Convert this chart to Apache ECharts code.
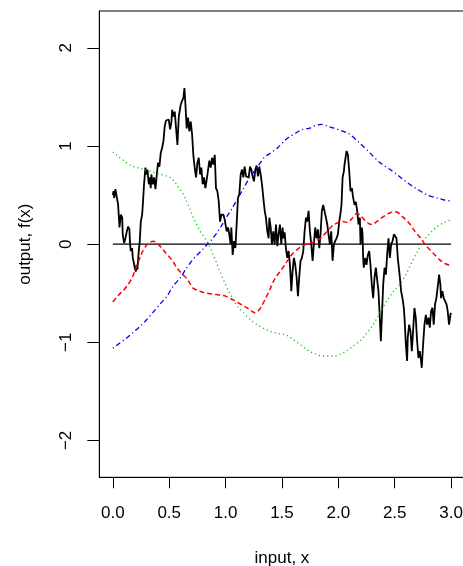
<!DOCTYPE html>
<html>
<head>
<meta charset="utf-8">
<script src="https://cdn.jsdelivr.net/npm/echarts@6/dist/echarts.min.js"></script>
<style>
html, body { margin: 0; padding: 0; background: #fff; }
#main { width: 463px; height: 566px; }
</style>
</head>
<body>
<div id="main"></div>
<script>
// sample path (black, solid)
var blackX = [0.000,0.006,0.012,0.023,0.035,0.047,0.059,0.071,0.083,0.088,0.100,0.112,0.124,0.136,0.147,0.153,0.159,0.171,0.177,0.189,
	0.195,0.204,0.212,0.218,0.230,0.239,0.248,0.260,0.266,0.277,0.289,0.301,0.307,0.319,0.330,0.336,0.342,0.354,0.366,0.378,
	0.390,0.401,0.413,0.425,0.437,0.449,0.460,0.472,0.484,0.496,0.508,0.520,0.526,0.537,0.549,0.561,0.573,0.585,0.590,0.602,
	0.614,0.626,0.635,0.644,0.655,0.667,0.679,0.691,0.703,0.714,0.726,0.738,0.750,0.762,0.774,0.785,0.797,0.809,0.821,0.833,
	0.845,0.856,0.868,0.880,0.892,0.904,0.915,0.927,0.939,0.951,0.963,0.981,0.992,1.010,1.022,1.033,1.045,1.051,1.063,1.075,
	1.087,1.098,1.110,1.122,1.134,1.146,1.157,1.169,1.181,1.193,1.205,1.217,1.228,1.240,1.252,1.264,1.276,1.287,1.299,1.311,
	1.323,1.335,1.347,1.358,1.370,1.382,1.388,1.400,1.411,1.423,1.435,1.447,1.459,1.470,1.482,1.494,1.506,1.512,1.524,1.535,
	1.547,1.559,1.571,1.583,1.594,1.606,1.618,1.630,1.642,1.653,1.665,1.677,1.689,1.701,1.713,1.724,1.736,1.748,1.760,1.772,
	1.783,1.795,1.807,1.819,1.831,1.842,1.854,1.866,1.878,1.890,1.902,1.913,1.925,1.937,1.949,1.961,1.972,1.984,1.996,2.008,
	2.020,2.028,2.038,2.049,2.055,2.067,2.073,2.079,2.085,2.097,2.108,2.120,2.132,2.144,2.156,2.167,2.179,2.191,2.197,2.209,
	2.215,2.220,2.226,2.238,2.250,2.262,2.274,2.285,2.297,2.309,2.321,2.333,2.345,2.356,2.368,2.377,2.386,2.398,2.410,2.422,
	2.433,2.445,2.457,2.469,2.481,2.493,2.504,2.516,2.528,2.534,2.546,2.557,2.569,2.581,2.587,2.599,2.610,2.616,2.628,2.640,
	2.652,2.663,2.675,2.687,2.699,2.711,2.722,2.734,2.740,2.752,2.764,2.776,2.787,2.799,2.811,2.823,2.835,2.846,2.858,2.870,
	2.882,2.894,2.905,2.911,2.923,2.935,2.947,2.959,2.970,2.982,2.994,3.000];
var blackY = [0.50,0.54,0.47,0.56,0.55,0.40,0.17,0.30,0.27,0.10,0.01,0.06,0.13,0.18,0.15,0.00,-0.07,-0.04,-0.14,-0.12,
	-0.24,-0.28,-0.21,-0.26,-0.07,0.03,0.23,0.30,0.40,0.61,0.78,0.71,0.76,0.61,0.68,0.57,0.71,0.61,0.68,0.56,
	0.71,0.83,0.79,0.93,0.98,1.05,1.20,1.26,1.24,1.27,1.17,1.25,1.37,1.30,1.35,1.18,1.01,1.30,1.28,1.42,
	1.46,1.49,1.59,1.42,1.18,1.29,1.15,1.25,1.12,0.91,0.78,0.68,0.83,0.88,0.71,0.78,0.61,0.68,0.57,0.66,
	0.68,0.85,0.78,0.88,0.81,0.91,0.57,0.54,0.44,0.23,0.30,0.30,0.25,0.13,0.17,0.10,0.00,0.17,-0.11,0.03,
	-0.04,0.20,0.47,0.51,0.71,0.76,0.68,0.79,0.69,0.71,0.68,0.79,0.76,0.69,0.64,0.76,0.80,0.69,0.79,0.71,
	0.61,0.47,0.34,0.27,0.13,0.06,0.27,0.17,0.00,0.13,0.00,0.20,-0.02,0.10,0.20,0.00,0.17,0.06,0.12,-0.04,
	-0.14,-0.07,-0.21,-0.48,-0.28,-0.14,-0.21,-0.34,-0.53,-0.34,-0.17,-0.14,-0.07,0.13,0.27,0.23,0.34,0.13,0.00,-0.17,
	0.00,0.17,0.06,0.15,-0.04,0.10,0.34,0.40,0.42,0.27,0.20,0.10,0.00,0.13,-0.17,0.00,0.03,0.06,0.10,0.23,
	0.32,0.40,0.68,0.74,0.81,0.83,0.95,0.96,0.91,0.74,0.54,0.57,0.47,0.40,0.43,0.34,0.20,0.27,0.00,0.17,
	0.10,-0.14,-0.24,-0.14,-0.21,-0.11,-0.07,-0.21,-0.41,-0.55,-0.34,-0.24,-0.37,-0.48,-0.75,-0.99,-0.75,-0.41,-0.24,-0.31,
	-0.11,0.06,-0.14,0.00,0.03,0.10,0.11,0.06,-0.15,-0.21,-0.34,-0.48,-0.55,-0.65,-0.75,-1.02,-1.19,-0.95,-0.82,-0.89,
	-1.09,-0.89,-0.65,-0.75,-0.99,-1.16,-1.09,-1.19,-1.26,-1.02,-0.82,-0.72,-0.82,-0.75,-0.85,-0.68,-0.65,-0.82,-0.61,-0.55,
	-0.53,-0.31,-0.41,-0.55,-0.48,-0.55,-0.55,-0.61,-0.68,-0.82,-0.72,-0.70];

// red, dashed
var redX = [0.00,0.05,0.094,0.13,0.168,0.20,0.227,0.25,0.27,0.30,0.33,0.36,0.38,0.41,0.434,0.47,0.508,0.54,0.567,0.62,
	0.656,0.69,0.714,0.773,0.833,0.89,0.95,1.00,1.07,1.13,1.19,1.23,1.26,1.29,1.32,1.36,1.39,1.42,1.45,1.49,
	1.52,1.56,1.60,1.64,1.69,1.74,1.80,1.85,1.90,1.95,2.00,2.04,2.08,2.12,2.16,2.19,2.23,2.27,2.30,2.34,
	2.40,2.46,2.50,2.53,2.57,2.63,2.68,2.73,2.78,2.84,2.90,2.95,3.00];
var redY = [-0.59,-0.52,-0.47,-0.42,-0.35,-0.26,-0.18,-0.11,-0.06,-0.01,0.02,0.03,0.02,-0.01,-0.04,-0.09,-0.14,-0.19,-0.24,-0.31,
	-0.35,-0.41,-0.45,-0.48,-0.50,-0.51,-0.52,-0.53,-0.57,-0.61,-0.65,-0.68,-0.70,-0.68,-0.63,-0.54,-0.47,-0.39,-0.33,-0.27,
	-0.22,-0.15,-0.09,-0.05,-0.01,0.01,0.03,0.07,0.13,0.19,0.22,0.23,0.22,0.26,0.31,0.30,0.25,0.21,0.20,0.23,
	0.28,0.32,0.33,0.32,0.28,0.21,0.13,0.06,-0.02,-0.09,-0.16,-0.20,-0.22];

// green, dotted
var greenX = [0.00,0.05,0.10,0.16,0.22,0.28,0.34,0.40,0.46,0.52,0.57,0.62,0.65,0.68,0.71,0.74,0.77,0.80,0.83,0.86,
	0.89,0.92,0.95,0.98,1.02,1.07,1.11,1.16,1.22,1.28,1.34,1.40,1.46,1.52,1.56,1.62,1.68,1.74,1.80,1.85,
	1.91,1.97,2.02,2.07,2.13,2.19,2.25,2.31,2.37,2.43,2.49,2.55,2.59,2.65,2.70,2.76,2.82,2.88,2.94,3.00];
var greenY = [0.94,0.89,0.85,0.80,0.78,0.76,0.74,0.72,0.70,0.67,0.60,0.52,0.45,0.37,0.28,0.21,0.14,0.09,0.04,-0.03,
	-0.11,-0.19,-0.28,-0.36,-0.46,-0.57,-0.64,-0.70,-0.77,-0.82,-0.86,-0.89,-0.91,-0.92,-0.94,-0.99,-1.04,-1.09,-1.12,-1.14,
	-1.14,-1.14,-1.12,-1.09,-1.04,-0.99,-0.91,-0.82,-0.70,-0.58,-0.48,-0.40,-0.33,-0.19,-0.08,0.04,0.12,0.18,0.22,0.25];

// blue, dot-dash
var blueX = [0.00,0.06,0.12,0.18,0.24,0.30,0.36,0.42,0.48,0.54,0.60,0.65,0.70,0.74,0.80,0.84,0.88,0.92,0.96,1.00,
	1.05,1.10,1.16,1.22,1.28,1.34,1.40,1.46,1.52,1.56,1.62,1.68,1.74,1.80,1.85,1.91,1.97,2.02,2.10,2.19,
	2.28,2.37,2.46,2.53,2.62,2.70,2.79,2.88,2.94,3.00];
var blueY = [-1.06,-1.01,-0.96,-0.90,-0.84,-0.77,-0.69,-0.61,-0.53,-0.42,-0.34,-0.25,-0.17,-0.12,-0.05,0.00,0.05,0.11,0.18,0.26,
	0.35,0.45,0.57,0.69,0.78,0.88,0.93,0.98,1.05,1.09,1.13,1.17,1.18,1.21,1.22,1.20,1.18,1.16,1.12,1.03,
	0.93,0.83,0.76,0.70,0.62,0.56,0.50,0.47,0.45,0.44];

var zeroX = [0, 3];
var zeroY = [0, 0];

var xTicks = [0, 0.5, 1, 1.5, 2, 2.5, 3];
var yTicks = [-2, -1, 0, 1, 2];

var zip = function (xs, ys) {
	var arr = [];
	for (var i = 0; i < xs.length; i++) {
		arr.push([xs[i], ys[i]]);
	}
	return arr;
};

var font = "'Liberation Sans', Arial, Helvetica, sans-serif";
var myChart = echarts.init(document.getElementById('main'));

var option = {
	animation: false,
	backgroundColor: '#fff',
	grid: {
		left: 99.3,
		top: 11,
		width: 365.3,
		height: 466.3,
		show: true,
		borderColor: '#000',
		borderWidth: 1,
		outerBoundsMode: 'none',
		containLabel: false
	},
	xAxis: {
		type: 'value',
		min: -0.12,
		max: 3.12,
		name: 'input, x',
		nameLocation: 'middle',
		nameGap: 73,
		nameTextStyle: { fontFamily: font, fontSize: 17, color: '#000' },
		splitLine: { show: false },
		axisLine: { show: true, onZero: false, lineStyle: { color: '#000', width: 1 } },
		axisTick: { show: true, length: 11, customValues: xTicks, lineStyle: { color: '#000', width: 1 } },
		axisLabel: {
			customValues: xTicks,
			margin: 28,
			fontFamily: font,
			fontSize: 17,
			color: '#000',
			formatter: function (v) { return v.toFixed(1); }
		}
	},
	yAxis: {
		type: 'value',
		min: -2.376,
		max: 2.376,
		name: 'output, f(x)',
		nameLocation: 'middle',
		nameGap: 65,
		nameTextStyle: { fontFamily: font, fontSize: 17, color: '#000' },
		splitLine: { show: false },
		axisLine: { show: true, onZero: false, lineStyle: { color: '#000', width: 1 } },
		axisTick: { show: true, length: 12, customValues: yTicks, lineStyle: { color: '#000', width: 1 } },
		axisLabel: {
			customValues: yTicks,
			rotate: 90,
			margin: 24,
			fontFamily: font,
			fontSize: 17,
			color: '#000',
			formatter: function (v) { return v < 0 ? '\u2212' + Math.abs(v) : String(v); }
		}
	},
	series: [
		{
			type: 'line',
			data: zip(blackX, blackY),
			showSymbol: false,
			lineStyle: { color: '#000', width: 1.8 }
		},
		{
			type: 'line',
			data: zip(zeroX, zeroY),
			showSymbol: false,
			lineStyle: { color: '#000', width: 1.3 }
		},
		{
			type: 'line',
			data: zip(redX, redY),
			showSymbol: false,
			smooth: 0.3,
			lineStyle: { color: '#ff0000', width: 1.5, type: [5, 3] }
		},
		{
			type: 'line',
			data: zip(greenX, greenY),
			showSymbol: false,
			smooth: 0.3,
			lineStyle: { color: '#00cd00', width: 1.3, type: [1.2, 3] }
		},
		{
			type: 'line',
			data: zip(blueX, blueY),
			showSymbol: false,
			smooth: 0.3,
			lineStyle: { color: '#0000ff', width: 1.3, type: [1.2, 3, 5, 3] }
		}
	]
};
myChart.setOption(option);
</script>
</body>
</html>
